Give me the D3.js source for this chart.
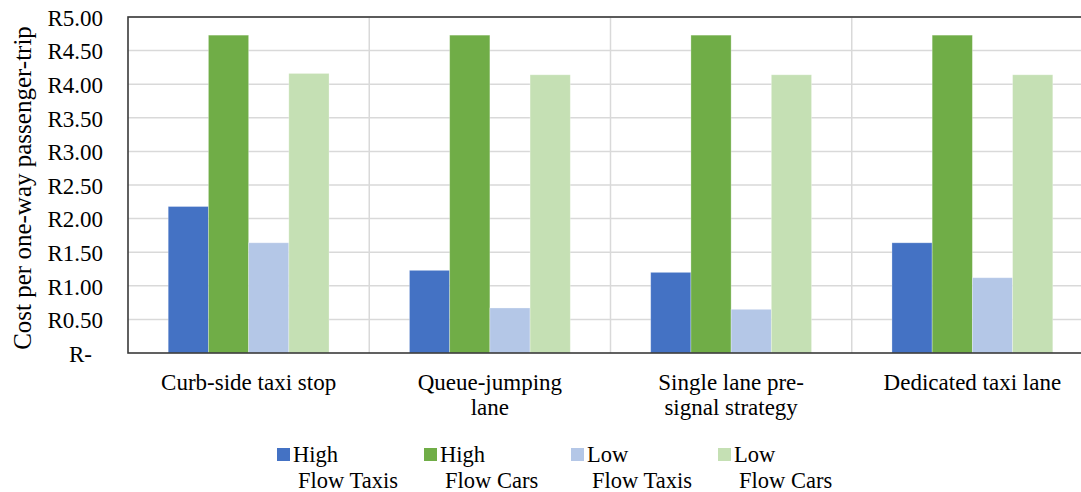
<!DOCTYPE html>
<html><head><meta charset="utf-8">
<script src="https://cdn.jsdelivr.net/npm/d3@7"></script>
<style>body{margin:0;background:#fff}svg{display:block}</style>
</head><body>
<svg id="c" width="1081" height="492"></svg>
<script>
const categories = [["Curb-side taxi stop"],["Queue-jumping","lane"],["Single lane pre-","signal strategy"],["Dedicated taxi lane"]];
const seriesNames = [["High","Flow Taxis"],["High","Flow Cars"],["Low","Flow Taxis"],["Low","Flow Cars"]];
const highFlowTaxis = [2.18, 1.23, 1.20, 1.64];
const highFlowCars  = [4.73, 4.73, 4.73, 4.73];
const lowFlowTaxis  = [1.64, 0.67, 0.65, 1.12];
const lowFlowCars   = [4.16, 4.14, 4.14, 4.14];
const yTicks = [0,0.5,1,1.5,2,2.5,3,3.5,4,4.5,5];
const colors = ["#4472C4","#70AD47","#B4C7E7","#C5E0B4"];
const series = [highFlowTaxis, highFlowCars, lowFlowTaxis, lowFlowCars];
const FONT = '"Liberation Serif"';

const svg = d3.select("#c");
const L=128, R=1093, T=17, B=353;
const catIdx = categories.map((d,i)=>i);
const x0 = d3.scaleBand().domain(catIdx).range([L,R]).padding(0);
const bw = x0.bandwidth();
const x1 = d3.scaleBand().domain(d3.range(series.length)).range([bw/6, bw*5/6]).padding(0);
const y = d3.scaleLinear().domain([0,5]).range([B,T]);

svg.append("g").selectAll("line").data(yTicks.slice(1)).join("line")
  .attr("x1",L).attr("x2",R).attr("y1",d=>y(d)).attr("y2",d=>y(d))
  .attr("stroke","#d9d9d9").attr("stroke-width",1.5);
svg.append("g").selectAll("line").data(catIdx.slice(1)).join("line")
  .attr("x1",d=>x0(d)).attr("x2",d=>x0(d)).attr("y1",T).attr("y2",B)
  .attr("stroke","#d9d9d9").attr("stroke-width",1.5);

series.forEach((vals,s)=>{
  svg.append("g").selectAll("rect").data(vals).join("rect")
    .attr("x",(d,i)=>x0(i)+x1(s)).attr("width",x1.bandwidth())
    .attr("y",d=>y(d)).attr("height",d=>B-y(d))
    .attr("fill",colors[s]).attr("stroke","rgba(255,255,255,0.35)").attr("stroke-width",0.8);
});

svg.append("rect").attr("x",L).attr("y",T).attr("width",R-L).attr("height",B-T)
  .attr("fill","none").attr("stroke","#3a3a3a").attr("stroke-width",1.6);

const yAxis = d3.axisLeft(y).tickValues(yTicks).tickSize(0).tickPadding(0)
  .tickFormat(d=> d===0 ? "R-" : "R"+d.toFixed(2));
const ga = svg.append("g").attr("transform",`translate(${L-25},0)`).call(yAxis);
ga.attr("font-family",null).attr("font-size",null);
ga.select(".domain").remove();
ga.selectAll("text").style("font-family",FONT).style("font-size","23px").attr("fill","#000")
  .attr("dy","0.36em").attr("dx",d=>d===0?-11:0);

svg.append("text").attr("transform",`translate(31,${(T+B)/2+3}) rotate(-90)`)
  .attr("text-anchor","middle").style("font-family",FONT).style("font-size","25px").attr("fill","#000")
  .text("Cost per one-way passenger-trip");

const gx = svg.append("g");
categories.forEach((lines,i)=>{
  lines.forEach((ln,j)=>{
    gx.append("text").attr("x",x0(i)+bw/2).attr("y",390+j*25)
      .attr("text-anchor","middle").style("font-family",FONT).style("font-size","23px").attr("fill","#000").text(ln);
  });
});

const lg = svg.append("g");
seriesNames.forEach((nm,i)=>{
  const lx = 277 + i*147;
  lg.append("rect").attr("x",lx).attr("y",448).attr("width",13).attr("height",13).attr("fill",colors[i]);
  lg.append("text").attr("x",lx+16).attr("y",462).style("font-family",FONT).style("font-size","22.5px").attr("fill","#000").text(nm[0]);
  lg.append("text").attr("x",lx+21).attr("y",488).style("font-family",FONT).style("font-size","22.5px").attr("fill","#000").text(nm[1]);
});
</script>
</body></html>
